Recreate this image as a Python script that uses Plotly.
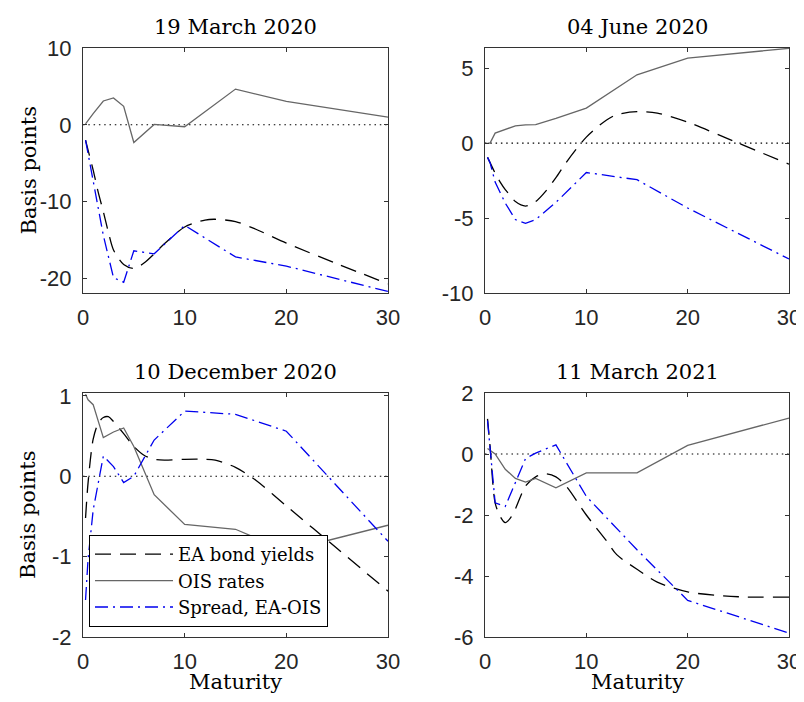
import plotly.graph_objects as go

# ---------------- data ----------------
mat = [0.25, 0.5, 1, 2, 3, 4, 5, 7, 10, 15, 20, 30]          # OIS / spread maturities
mat_ea = [0.25, 0.5, 1, 1.5, 2, 2.5, 3, 4, 5, 6, 7, 8, 10, 12, 13, 15, 17, 20, 25, 30]

titles = ["19 March 2020", "04 June 2020", "10 December 2020", "11 March 2021"]

# 19 March 2020
ea_1 = [-2.0, -3.3, -5.9, -8.8, -11.3, -14.0, -16.3, -18.2, -18.7, -18.0, -16.8, -15.5,
        -13.3, -12.4, -12.3, -12.6, -13.6, -15.4, -18.1, -20.7]
ois_1 = [0.13, 0.6, 1.45, 3.1, 3.5, 2.4, -2.3, 0.05, -0.25, 4.65, 3.05, 1.0]
spr_1 = [-2.0, -3.9, -7.3, -14.4, -19.9, -20.5, -16.4, -16.8, -13.1, -17.2, -18.4, -21.7]

# 04 June 2020
ea_2 = [-0.95, -1.3, -2.0, -2.6, -3.1, -3.5, -3.9, -4.2, -3.9, -3.2, -2.3, -1.3,
        0.4, 1.55, 1.9, 2.1, 2.0, 1.4, 0.0, -1.4]
ois_2 = [0.0, 0.0, 0.67, 0.92, 1.16, 1.22, 1.23, 1.65, 2.34, 4.56, 5.67, 6.33]
spr_2 = [-0.95, -1.3, -2.6, -4.0, -5.1, -5.35, -5.1, -3.95, -1.96, -2.44, -4.33, -7.73]

# 10 December 2020
ea_3 = [-0.52, -0.08, 0.46, 0.66, 0.73, 0.74, 0.68, 0.53, 0.37, 0.26, 0.21, 0.2,
        0.21, 0.21, 0.2, 0.11, -0.05, -0.37, -0.9, -1.43]
ois_3 = [1.02, 0.95, 0.89, 0.48, 0.55, 0.6, 0.37, -0.23, -0.6, -0.66, -0.93, -0.61]
spr_3 = [-1.54, -1.03, -0.42, 0.25, 0.12, -0.08, 0.0, 0.45, 0.81, 0.77, 0.56, -0.81]

# 11 March 2021
ea_4 = [1.15, 0.25, -1.6, -2.05, -2.25, -2.1, -1.8, -1.05, -0.75, -0.65, -0.75, -1.05,
        -2.0, -2.85, -3.3, -3.78, -4.2, -4.52, -4.68, -4.69]
ois_4 = [0.18, 0.12, 0.0, -0.5, -0.8, -0.92, -0.8, -1.11, -0.62, -0.62, 0.28, 1.18]
spr_4 = [1.1, 0.15, -1.6, -1.72, -0.95, -0.15, 0.03, 0.3, -1.39, -3.14, -4.8, -5.87]

ea_all = [ea_1, ea_2, ea_3, ea_4]
ois_all = [ois_1, ois_2, ois_3, ois_4]
spr_all = [spr_1, spr_2, spr_3, spr_4]

x_ticks = [0, 10, 20, 30]
x_ticklabels = ["0", "10", "20", "30"]
y_ticks = [[-20, -10, 0, 10], [-10, -5, 0, 5], [-2, -1, 0, 1], [-6, -4, -2, 0, 2]]
y_ticklabels = [["-20", "-10", "0", "10"], ["-10", "-5", "0", "5"],
                ["-2", "-1", "0", "1"], ["-6", "-4", "-2", "0", "2"]]
y_ranges = [[-21.9, 10], [-10, 6.35], [-2, 1.035], [-6, 2]]

series_names = ["EA bond yields", "OIS rates", "Spread, EA-OIS"]

# ---------------- layout geometry (pixels in the 804x702 window) ----------------
OFF = 8                      # page body margin of the browser
W, H = 804 - OFF, 702 - OFF  # figure size so that it ends at the window edge
boxes = [(83, 388, 48, 293), (485, 789, 48, 293), (83, 388, 393, 637), (485, 789, 393, 637)]


def px(v):
    return (v - OFF) / W


def py(v):
    return 1 - (v - OFF) / H


SERIF = "DejaVu Serif"
SANS = "Liberation Sans"
AXC = "#262626"

fig = go.Figure()

for i in range(4):
    xa = "x" if i == 0 else f"x{i+1}"
    ya = "y" if i == 0 else f"y{i+1}"
    fig.add_trace(go.Scatter(x=mat_ea, y=ea_all[i], mode="lines", xaxis=xa, yaxis=ya,
                             name=series_names[0], showlegend=(i == 2), legendrank=1,
                             line=dict(color="black", width=1.3, dash="16px,9px",
                                       shape="spline", smoothing=0.8)))
    fig.add_trace(go.Scatter(x=mat, y=ois_all[i], mode="lines", xaxis=xa, yaxis=ya,
                             name=series_names[1], showlegend=(i == 2), legendrank=2,
                             line=dict(color="#666666", width=1.3)))
    fig.add_trace(go.Scatter(x=mat, y=spr_all[i], mode="lines", xaxis=xa, yaxis=ya,
                             name=series_names[2], showlegend=(i == 2), legendrank=3,
                             line=dict(color="#0000ee", width=1.3, dash="13px,5px,2px,5px")))
    # zero reference line
    fig.add_shape(type="line", xref=xa, yref=ya, x0=0, x1=30, y0=0, y1=0,
                  line=dict(color="black", width=1.1, dash="1.5px,3.8px"), layer="below")

    x0, x1, y0, y1 = boxes[i]
    axis_common = dict(showline=True, linecolor="#333333", linewidth=1, mirror="ticks",
                       ticks="inside", ticklen=4, tickcolor="#333333", showgrid=False,
                       zeroline=False, automargin=False,
                       tickfont=dict(family=SANS, size=22, color=AXC))
    fig.layout[("xaxis" if i == 0 else f"xaxis{i+1}")] = dict(
        domain=[px(x0), px(x1)], anchor=ya, range=[0, 30], tickvals=x_ticks,
        ticktext=x_ticklabels, ticklabelstandoff=5, **axis_common)
    fig.layout[("yaxis" if i == 0 else f"yaxis{i+1}")] = dict(
        domain=[py(y1), py(y0)], anchor=xa, range=y_ranges[i],
        tickvals=y_ticks[i], ticktext=y_ticklabels[i], ticklabelstandoff=6, **axis_common)

    # panel title
    fig.add_annotation(text=titles[i], xref="paper", yref="paper",
                       x=px((x0 + x1) / 2), y=py(y0 - 21), xanchor="center",
                       yanchor="middle", showarrow=False,
                       font=dict(family=SERIF, size=21, color="black"))
    if i in (0, 2):
        fig.add_annotation(text="Basis points", xref="paper", yref="paper",
                           x=px(28), y=py((y0 + y1) / 2), xanchor="center",
                           yanchor="middle", textangle=-90, showarrow=False,
                           font=dict(family=SERIF, size=21, color="black"))
    if i in (2, 3):
        fig.add_annotation(text="Maturity", xref="paper", yref="paper",
                           x=px((x0 + x1) / 2), y=py(682), xanchor="center",
                           yanchor="middle", showarrow=False,
                           font=dict(family=SERIF, size=21, color="black"))

fig.update_layout(
    width=W, height=H, margin=dict(l=0, r=0, t=0, b=0, autoexpand=False),
    paper_bgcolor="white", plot_bgcolor="white",
    legend=dict(x=px(89), y=py(535), xanchor="left", yanchor="top",
                bgcolor="white", bordercolor="black", borderwidth=1,
                font=dict(family=SERIF, size=18, color="black"),
                itemwidth=78, tracegroupgap=0, traceorder="normal"),
)

fig.write_html("out.html")
